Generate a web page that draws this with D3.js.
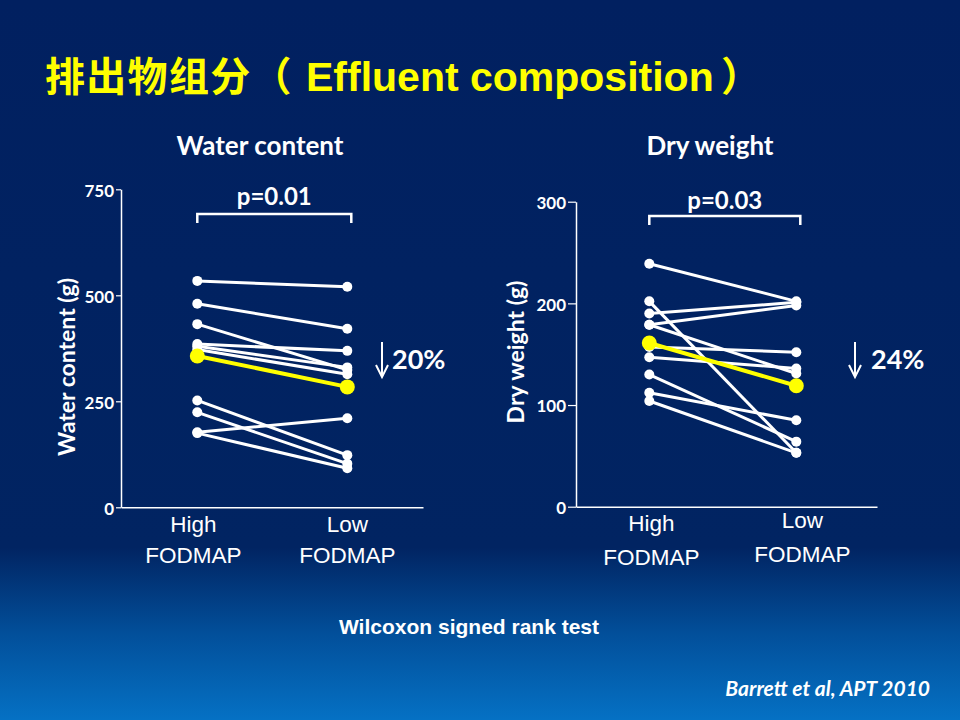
<!DOCTYPE html>
<html>
<head>
<meta charset="utf-8">
<script src="https://cdn.jsdelivr.net/npm/d3@7"></script>
<style>
  html, body { margin: 0; padding: 0; background: #012060; }
  svg { display: block; }
</style>
</head>
<body>
<svg id="chart" width="960" height="720"></svg>
<script>
// ---------------- DATA ----------------
const categories = ["High FODMAP", "Low FODMAP"];

const waterHigh = [534, 480, 432, 385, 380, 372, 252, 224, 177, 175];
const waterLow  = [520, 421, 324, 369, 330, 314, 123, 103, 210, 92];
const waterMean = [357, 284];
const waterTicks = [0, 250, 500, 750];

const dryHigh = [239, 202, 190, 179, 179, 157, 147, 130, 112, 104];
const dryLow  = [202, 53, 201, 198, 131, 152, 136, 64, 85, 53];
const dryMean = [161, 119];
const dryTicks = [0, 100, 200, 300];

const titleCJK = "排出物组分（";
const titleEN = "Effluent composition";
const titleClose = "）";

// ---------------- SETUP ----------------
const svg = d3.select("#chart");
const W = 960, H = 720;

const defs = svg.append("defs");
const grad = defs.append("linearGradient").attr("id", "bg")
  .attr("x1", 0).attr("y1", 0).attr("x2", 0).attr("y2", 1);
grad.append("stop").attr("offset", "0").attr("stop-color", "#012060");
grad.append("stop").attr("offset", "0.76").attr("stop-color", "#012462");
grad.append("stop").attr("offset", "0.88").attr("stop-color", "#024f9a");
grad.append("stop").attr("offset", "1").attr("stop-color", "#0571c4");
svg.append("rect").attr("width", W).attr("height", H).attr("fill", "url(#bg)");

// Title
svg.append("text").attr("x", 45).attr("y", 91)
  .attr("fill", "#ffff00").attr("font-family", "'Noto Sans CJK SC'")
  .attr("font-weight", "bold").attr("font-size", 40).attr("letter-spacing", 1.3)
  .text(titleCJK);
svg.append("text").attr("x", 306).attr("y", 91)
  .attr("fill", "#ffff00").attr("font-family", "'Liberation Sans', Arial, sans-serif")
  .attr("font-weight", "bold").attr("font-size", 41)
  .text(titleEN);
svg.append("text").attr("x", 721).attr("y", 91)
  .attr("fill", "#ffff00").attr("font-family", "'Noto Sans CJK SC'")
  .attr("font-weight", "bold").attr("font-size", 40)
  .text(titleClose);

const labelFont = "Lato, 'Open Sans', sans-serif";
const catFont = "'Liberation Sans', Arial, sans-serif";

function panel(cfg) {
  const g = svg.append("g");
  const y = d3.scaleLinear().domain(cfg.domain).range([cfg.y0, cfg.y1]);
  const x = d3.scalePoint().domain(categories).range([cfg.xa, cfg.xb]);

  // y axis
  const yAxis = d3.axisLeft(y).tickValues(cfg.ticks).tickSize(cfg.tickLen)
    .tickPadding(2).tickSizeOuter(0).tickFormat(d3.format("d"));
  const ya = g.append("g").attr("transform", `translate(${cfg.axisX},0)`).call(yAxis);
  ya.select(".domain").attr("stroke", "#ffffff").attr("stroke-width", 1.5);
  ya.selectAll(".tick line").attr("stroke", "#ffffff").attr("stroke-width", 1.2);
  ya.selectAll(".tick text").attr("fill", "#ffffff")
    .attr("font-family", labelFont).attr("font-weight", "bold").attr("font-size", 17)
    .attr("dy", "0.4em");

  // x axis (baseline only)
  const xr = d3.scaleLinear().domain([0, 1]).range([cfg.axisX, cfg.axisEnd]);
  const xa = g.append("g").attr("transform", `translate(0,${cfg.y0})`)
    .call(d3.axisBottom(xr).tickValues([]).tickSizeOuter(0));
  xa.select(".domain").attr("stroke", "#ffffff").attr("stroke-width", 1.5);

  // category labels
  categories.forEach((c, i) => {
    const parts = c.split(" ");
    const t = g.append("text").attr("text-anchor", "middle")
      .attr("fill", "#ffffff").attr("font-family", catFont).attr("font-size", 22.5);
    t.append("tspan").attr("x", x(c) + cfg.catDx[i]).attr("y", cfg.catY[i][0]).text(parts[0]);
    t.append("tspan").attr("x", x(c) + cfg.catDx[i]).attr("y", cfg.catY[i][1]).text(parts[1]);
  });

  // y axis title
  g.append("text")
    .attr("transform", `translate(${cfg.ytX},${cfg.ytY}) rotate(-90)`)
    .attr("text-anchor", "middle").attr("fill", "#ffffff")
    .attr("font-family", labelFont).attr("font-weight", "bold").attr("font-size", 23)
    .text(cfg.yTitle);

  // subtitle
  g.append("text").attr("x", cfg.subX).attr("y", 155).attr("text-anchor", "middle")
    .attr("fill", "#ffffff").attr("font-family", labelFont).attr("font-weight", "bold")
    .attr("font-size", 26).text(cfg.subtitle);

  // bracket + p value
  const bx0 = x(categories[0]), bx1 = x(categories[1]) + 4;
  g.append("path")
    .attr("d", `M${bx0},${cfg.brY + 9}V${cfg.brY}H${bx1}V${cfg.brY + 9}`)
    .attr("fill", "none").attr("stroke", "#ffffff").attr("stroke-width", 2.5);
  g.append("text").attr("x", (bx0 + bx1) / 2).attr("y", cfg.pY).attr("text-anchor", "middle")
    .attr("fill", "#ffffff").attr("font-family", labelFont).attr("font-weight", "bold")
    .attr("font-size", 24).text(cfg.pText);

  // subject lines
  const pairs = cfg.high.map((h, i) => [h, cfg.low[i]]);
  g.selectAll("line.subj").data(pairs).join("line").attr("class", "subj")
    .attr("x1", x(categories[0])).attr("x2", x(categories[1]))
    .attr("y1", d => y(d[0])).attr("y2", d => y(d[1]))
    .attr("stroke", "#ffffff").attr("stroke-width", 3);
  const pts = [];
  pairs.forEach(p => { pts.push([0, p[0]]); pts.push([1, p[1]]); });
  g.selectAll("circle.subj").data(pts).join("circle").attr("class", "subj")
    .attr("cx", d => x(categories[d[0]])).attr("cy", d => y(d[1])).attr("r", 5)
    .attr("fill", "#ffffff");

  // mean
  g.append("line")
    .attr("x1", x(categories[0])).attr("x2", x(categories[1]))
    .attr("y1", y(cfg.mean[0])).attr("y2", y(cfg.mean[1]))
    .attr("stroke", "#ffff00").attr("stroke-width", 4);
  g.selectAll("circle.mean").data(cfg.mean).join("circle").attr("class", "mean")
    .attr("cx", (d, i) => x(categories[i])).attr("cy", d => y(d)).attr("r", 7.5)
    .attr("fill", "#ffff00");

  // percent change arrow
  const ax = cfg.arrowX;
  g.append("path")
    .attr("d", `M${ax},342V376M${ax - 6},365L${ax},377L${ax + 6},365`)
    .attr("fill", "none").attr("stroke", "#ffffff").attr("stroke-width", 2);
  g.append("text").attr("x", cfg.pctX).attr("y", 369)
    .attr("fill", "#ffffff").attr("font-family", labelFont).attr("font-weight", "bold")
    .attr("font-size", 27).text(cfg.pct);
}

panel({
  domain: [0, 750], y0: 507.3, y1: 189.3, ticks: waterTicks, tickLen: 5,
  axisX: 121, axisEnd: 423, xa: 197.3, xb: 347.3,
  high: waterHigh, low: waterLow, mean: waterMean,
  catDx: [-4, 0], catY: [[532, 563], [532, 563]],
  yTitle: "Water content (g)", ytX: 75, ytY: 367,
  subtitle: "Water content", subX: 260,
  brY: 214, pY: 205, pText: "p=0.01",
  arrowX: 382, pctX: 392, pct: "20%"
});

panel({
  domain: [0, 300], y0: 506.7, y1: 201.7, ticks: dryTicks, tickLen: 8,
  axisX: 576, axisEnd: 877, xa: 649.3, xb: 796.3,
  high: dryHigh, low: dryLow, mean: dryMean,
  catDx: [2, 6], catY: [[531, 565], [528, 562]],
  yTitle: "Dry weight (g)", ytX: 524, ytY: 352,
  subtitle: "Dry weight", subX: 710,
  brY: 216, pY: 209, pText: "p=0.03",
  arrowX: 855, pctX: 871, pct: "24%"
});

// footer notes
svg.append("text").attr("x", 469).attr("y", 634).attr("text-anchor", "middle")
  .attr("fill", "#ffffff").attr("font-family", "'Liberation Sans', Arial, sans-serif")
  .attr("font-weight", "bold").attr("font-size", 21).text("Wilcoxon signed rank test");
svg.append("text").attr("x", 930).attr("y", 696).attr("text-anchor", "end")
  .attr("fill", "#ffffff").attr("font-family", labelFont).attr("font-weight", "bold")
  .attr("font-style", "italic").attr("font-size", 21).text("Barrett et al, APT 2010");
</script>
</body>
</html>
